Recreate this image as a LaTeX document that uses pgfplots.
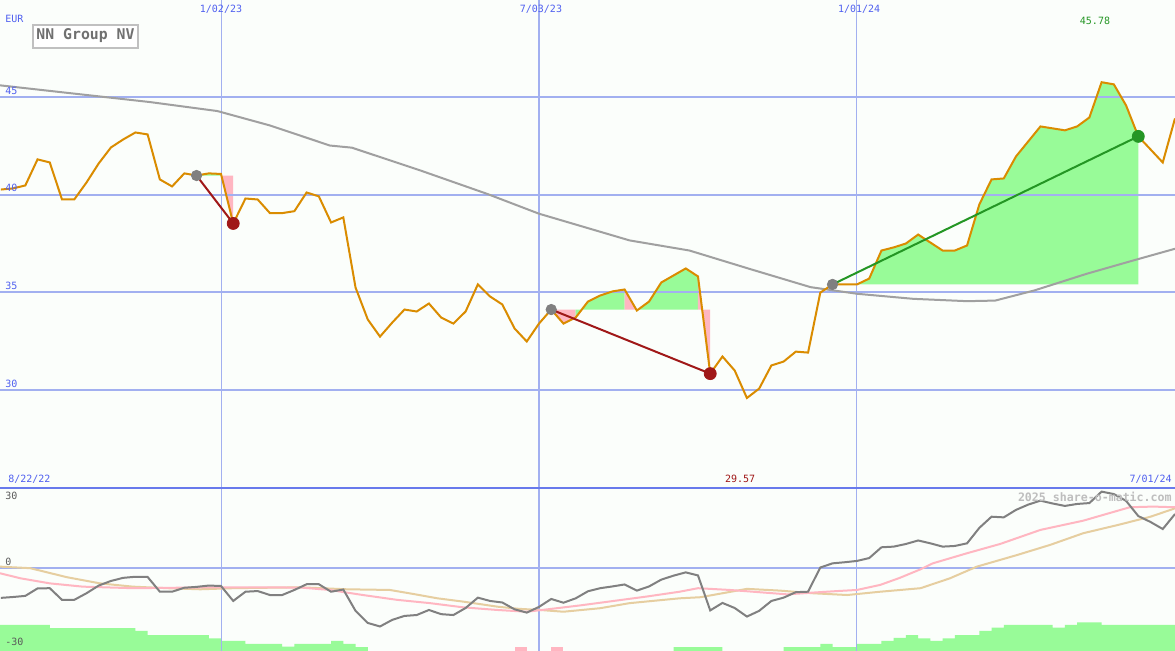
\documentclass[border=0pt]{standalone}
\usepackage{pgfplots}
\pgfplotsset{compat=1.18}
\usepackage{fontspec}
\setmonofont{DejaVu Sans Mono}
\definecolor{bg}{RGB}{251,254,251}
\definecolor{gridc}{RGB}{162,176,240}
\definecolor{sepc}{RGB}{104,122,236}
\definecolor{lblue}{RGB}{80,96,240}
\definecolor{price}{RGB}{218,140,0}
\definecolor{magray}{RGB}{160,160,160}
\definecolor{momgray}{RGB}{128,128,128}
\definecolor{lpink}{RGB}{255,182,193}
\definecolor{tanc}{RGB}{230,206,160}
\definecolor{pgreen}{RGB}{152,251,152}
\definecolor{dred}{RGB}{160,24,24}
\definecolor{fgreen}{RGB}{36,150,36}
\definecolor{titlegray}{RGB}{112,112,112}
\definecolor{boxgray}{RGB}{192,192,192}
\definecolor{lblgray}{RGB}{90,90,90}
\definecolor{wmgray}{RGB}{190,190,190}

\pgfplotstableread{
w p
-18 40.27
-17 40.33
-16 40.48
-15 41.82
-14 41.66
-13 39.76
-12 39.76
-11 40.63
-10 41.61
-9 42.43
-8 42.84
-7 43.20
-6 43.10
-5 40.79
-4 40.43
-3 41.10
-2 40.99
-1 41.10
0 41.07
1 38.53
2 39.81
3 39.76
4 39.06
5 39.06
6 39.16
7 40.12
8 39.92
9 38.58
10 38.84
11 35.24
12 33.60
13 32.72
14 33.44
15 34.11
16 34.01
17 34.42
18 33.70
19 33.39
20 34.01
21 35.40
22 34.78
23 34.37
24 33.14
25 32.47
26 33.39
27 34.11
28 33.39
29 33.70
30 34.52
31 34.83
32 35.04
33 35.14
34 34.06
35 34.52
36 35.50
37 35.86
38 36.22
39 35.81
40 30.82
41 31.70
42 30.98
43 29.57
44 30.05
45 31.24
46 31.44
47 31.95
48 31.90
49 34.98
50 35.40
51 35.40
52 35.40
53 35.70
54 37.14
55 37.30
56 37.50
57 37.96
58 37.55
59 37.14
60 37.14
61 37.40
62 39.50
63 40.79
64 40.84
65 41.97
66 42.74
67 43.51
68 43.41
69 43.31
70 43.51
71 43.97
72 45.78
73 45.67
74 44.59
75 43.00
76 42.33
77 41.66
78 43.92
}\pricetab

\pgfplotstableread{
w m
-18 -13.6
-17 -13.2
-16 -12.7
-15 -9.3
-14 -9.2
-13 -14.5
-12 -14.5
-11 -11.5
-10 -8.0
-9 -5.9
-8 -4.5
-7 -4.0
-6 -4.1
-5 -10.8
-4 -10.8
-3 -9.0
-2 -8.6
-1 -8.0
0 -8.2
1 -15.0
2 -10.8
3 -10.5
4 -12.3
5 -12.3
6 -10.0
7 -7.4
8 -7.4
9 -10.8
10 -9.8
11 -19.5
12 -25.0
13 -26.6
14 -23.6
15 -21.8
16 -21.4
17 -19.1
18 -21.0
19 -21.4
20 -18.2
21 -13.5
22 -15.0
23 -15.7
24 -18.8
25 -20.3
26 -17.7
27 -14.1
28 -15.8
29 -13.8
30 -10.6
31 -9.2
32 -8.4
33 -7.5
34 -10.3
35 -8.4
36 -5.3
37 -3.5
38 -2.0
39 -3.4
40 -19.3
41 -15.9
42 -18.2
43 -22.1
44 -19.5
45 -15.0
46 -13.5
47 -11.0
48 -10.8
49 0.2
50 2.1
51 2.6
52 3.2
53 4.5
54 9.4
55 9.7
56 10.9
57 12.5
58 11.2
59 9.7
60 10.0
61 11.2
62 18.2
63 23.3
64 23.0
65 26.4
66 28.8
67 30.6
68 29.3
69 28.2
70 29.1
71 29.5
72 34.7
73 33.6
74 30.5
75 23.6
76 20.9
77 17.7
78 24.5
}\momtab

\begin{document}
\begin{tikzpicture}[font=\ttfamily\fontsize{5}{6}\selectfont]
\begin{axis}[name=top, at={(0,0)}, anchor=north west, scale only axis,
  width=587.5pt, height=243.5pt, xmin=-18.07, xmax=78, ymin=25, ymax=50,
  hide axis, clip=true]
% background
\addplot[fill=bg, draw=none] coordinates {(-19,24)(79,24)(79,51)(-19,51)};
% trade fills
\addplot[fill=pgreen, draw=none] coordinates {(-2,40.99)(-1,41.10)(0,41.07)(0,40.99)};
\addplot[fill=lpink, draw=none] coordinates {(0,40.99)(0,41.07)(1,38.53)(1,40.99)};
\addplot[fill=lpink, draw=none] coordinates {(27,34.11)(28,33.39)(29,33.70)(29,34.11)};
\addplot[fill=pgreen, draw=none] coordinates {(29,34.11)(29,33.70)(30,34.52)(31,34.83)(32,35.04)(33,35.14)(33,34.11)};
\addplot[fill=lpink, draw=none] coordinates {(33,34.11)(33,35.14)(34,34.06)(34,34.11)};
\addplot[fill=pgreen, draw=none] coordinates {(34,34.11)(34,34.06)(35,34.52)(36,35.50)(37,35.86)(38,36.22)(39,35.81)(39,34.11)};
\addplot[fill=lpink, draw=none] coordinates {(39,34.11)(39,35.81)(40,30.82)(40,34.11)};
\addplot[fill=pgreen, draw=none] coordinates {(50,35.40)(51,35.40)(52,35.40)(53,35.70)(54,37.14)(55,37.30)(56,37.50)(57,37.96)(58,37.55)(59,37.14)(60,37.14)(61,37.40)(62,39.50)(63,40.79)(64,40.84)(65,41.97)(66,42.74)(67,43.51)(68,43.41)(69,43.31)(70,43.51)(71,43.97)(72,45.78)(73,45.67)(74,44.59)(75,43.00)(75,35.40)};
% grid
\foreach \yy in {30,35,40,45}{
  \edef\tmp{\noexpand\addplot[gridc, line width=1pt] coordinates {(-18.07,\yy)(78,\yy)};}\tmp
}
\addplot[gridc, line width=0.5pt] coordinates {(0,25)(0,50)};
\addplot[gridc, line width=1pt] coordinates {(26,25)(26,50)};
\addplot[gridc, line width=0.5pt] coordinates {(52,25)(52,50)};
% moving average
\addplot[magray, line width=1pt] coordinates {(-18.07,45.62)(-11.94,45.19)(-5.8,44.76)(-0.3,44.30)(4,43.56)(8.9,42.53)(10.7,42.42)(16.3,41.25)(21.75,40.05)(26,39.03)(33.4,37.66)(38.3,37.14)(43.2,36.20)(48.2,35.26)(52,34.92)(56.6,34.66)(61,34.54)(63.3,34.57)(66.5,35.09)(70.8,35.95)(75.1,36.72)(78,37.23)};
% markers behind lines
\addplot[only marks, mark=*, mark size=2.6pt, color=momgray] coordinates {(-2,40.99)(27,34.11)(50,35.40)};
% price
\addplot[price, line width=1pt] table[x=w, y=p] {\pricetab};
% trade lines
\addplot[dred, line width=1pt] coordinates {(-2,40.99)(1,38.53)};
\addplot[dred, line width=1pt] coordinates {(27,34.11)(40,30.82)};
\addplot[fgreen, line width=1pt] coordinates {(50,35.40)(75,43.00)};
\addplot[only marks, mark=*, mark size=3pt, color=dred] coordinates {(1,38.53)(40,30.82)};
\addplot[only marks, mark=*, mark size=3pt, color=fgreen] coordinates {(75,43.00)};
% labels
\node[text=lblue] at (axis cs:0,49.54) {1/02/23};
\node[text=lblue] at (axis cs:26.16,49.54) {7/03/23};
\node[text=lblue] at (axis cs:52.17,49.54) {1/01/24};
\node[text=lblue, anchor=west, inner sep=0pt] at (axis cs:-17.66,49.02) {EUR};
\node[text=fgreen] at (axis cs:71.46,48.92) {45.78};
\node[text=lblue, anchor=west, inner sep=0pt] at (axis cs:-17.66,45.33) {45};
\node[text=lblue, anchor=west, inner sep=0pt] at (axis cs:-17.66,40.35) {40};
\node[text=lblue, anchor=west, inner sep=0pt] at (axis cs:-17.66,35.32) {35};
\node[text=lblue, anchor=west, inner sep=0pt] at (axis cs:-17.66,30.29) {30};
\node[text=lblue, anchor=west, inner sep=0pt] at (axis cs:-17.42,25.41) {8/22/22};
\node[text=dred] at (axis cs:42.44,25.41) {29.57};
\node[text=lblue, anchor=east, inner sep=0pt] at (axis cs:77.76,25.41) {7/01/24};
\node[draw=boxgray, line width=1pt, fill=white, text=titlegray, minimum width=52.5pt, minimum height=11.5pt, inner sep=0pt, font=\ttfamily\bfseries\fontsize{7.4}{8}\selectfont] at (axis cs:-11.08,48.15) {NN Group NV};
\end{axis}

\begin{axis}[name=bot, at={(0,-243.5pt)}, anchor=north west, scale only axis,
  width=587.5pt, height=81.5pt, xmin=-18.07, xmax=78, ymin=-37.3, ymax=36.8,
  hide axis, clip=true]
\addplot[fill=bg, draw=none] coordinates {(-19,-40)(79,-40)(79,40)(-19,40)};
% histogram
\addplot[fill=pgreen, draw=none, const plot mark left] coordinates {(-18.1,-40)(-18.1,-25.9)(-14,-27.4)(-7,-28.6)(-6,-30.5)(-1,-32.0)(0,-33.2)(2,-34.5)(5,-35.8)(6,-34.5)(9,-33.2)(10,-34.5)(11,-36.0)(12,-40)(37,-36.0)(41,-40)(46,-36.0)(49,-34.5)(50,-36.0)(52,-34.5)(54,-33.2)(55,-31.8)(56,-30.5)(57,-32.0)(58,-33.2)(59,-32.0)(60,-30.5)(62,-28.6)(63,-27.1)(64,-25.9)(68,-27.1)(69,-25.9)(70,-24.7)(72,-25.9)(78.1,-40)};
\addplot[fill=lpink, draw=none] coordinates {(24,-40)(24,-36)(25,-36)(25,-40)};
\addplot[fill=lpink, draw=none] coordinates {(27,-40)(27,-36)(28,-36)(28,-40)};
% grid
\addplot[gridc, line width=1pt] coordinates {(-18.07,0)(78,0)};
\addplot[gridc, line width=0.5pt] coordinates {(0,-40)(0,40)};
\addplot[gridc, line width=1pt] coordinates {(26,-40)(26,40)};
\addplot[gridc, line width=0.5pt] coordinates {(52,-40)(52,40)};
\addplot[sepc, line width=1pt] coordinates {(-18.07,36.35)(78,36.35)};
% lines
\addplot[tanc, line width=1pt] coordinates {(-18.07,0.6)(-15.6,-0.1)(-12.6,-4.2)(-9.9,-7.0)(-7.2,-8.5)(-4.4,-9.2)(-1.7,-9.7)(1,-9.2)(6.5,-8.8)(10.3,-9.7)(13.8,-10.0)(15.7,-11.8)(17.7,-13.8)(19.8,-15.3)(22.6,-17.6)(24.4,-18.6)(26.1,-19.1)(28,-19.9)(31,-18.3)(33.4,-16.0)(37.5,-13.8)(39.2,-13.3)(43,-9.5)(45.7,-10.3)(48.4,-11.5)(51.2,-12.3)(53.9,-10.8)(57.2,-9.2)(59.6,-4.7)(61.8,0.6)(65.1,5.9)(67.8,10.5)(70.5,15.8)(73.3,19.5)(76,23.3)(78,27.1)};
\addplot[lpink, line width=1pt] coordinates {(-18.07,-2.4)(-16.4,-4.7)(-14,-7.0)(-11.3,-8.5)(-7.2,-9.2)(-0.3,-8.8)(6.5,-8.9)(8.9,-10.0)(11.6,-12.3)(14.4,-14.5)(17.1,-16.0)(19.8,-17.9)(22.6,-19.1)(25,-19.9)(26.7,-18.8)(29.4,-17.0)(32.1,-15.0)(34.8,-13.0)(37.5,-10.8)(39,-9.2)(41.6,-10.0)(43.5,-10.8)(46.3,-12.0)(48.4,-11.2)(50.4,-10.5)(52,-10.0)(53.9,-7.7)(55.5,-4.5)(57.2,-0.6)(58.2,2.1)(61,6.7)(63.7,10.9)(67,17.3)(70.5,21.5)(74.3,27.6)(76.2,27.9)(78,27.6)};
\addplot[momgray, line width=1pt] table[x=w, y=m] {\momtab};
% labels
\node[text=lblgray, anchor=west, inner sep=0pt] at (axis cs:-17.66,32.7) {30};
\node[text=lblgray, anchor=west, inner sep=0pt] at (axis cs:-17.66,2.7) {0};
\node[text=lblgray, anchor=west, inner sep=0pt] at (axis cs:-17.66,-33.6) {-30};
\node[text=wmgray, anchor=east, inner sep=0pt, font=\ttfamily\bfseries\fontsize{5.8}{7}\selectfont] at (axis cs:77.76,32.3) {2025 share-o-matic.com};
\end{axis}
\pgfresetboundingbox
\useasboundingbox (0,0) rectangle (587.5pt,-325pt);
\end{tikzpicture}
\end{document}
